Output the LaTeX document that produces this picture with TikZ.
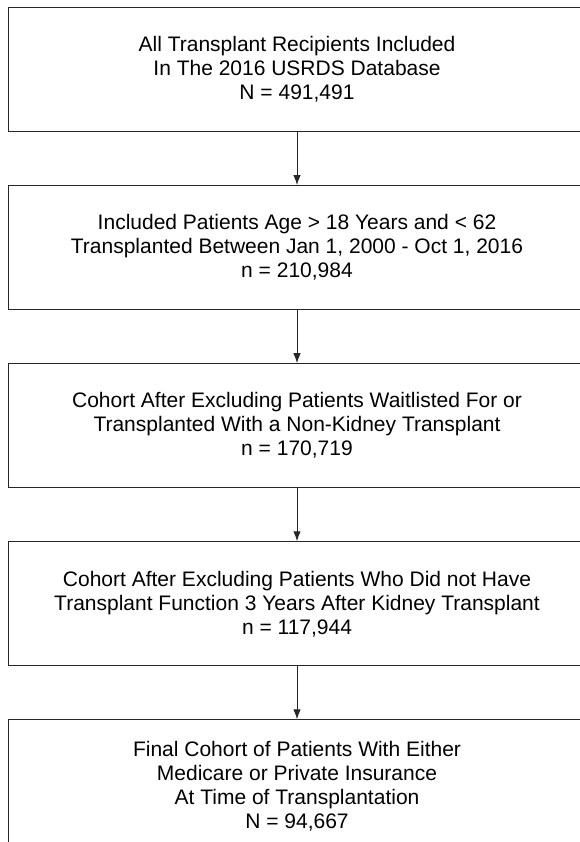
\documentclass[tikz,border=0pt]{standalone}
\usepackage{fontspec}
\setmainfont{Liberation Sans}
\usetikzlibrary{arrows.meta,positioning}

\begin{document}
\begin{tikzpicture}[x=1pt, y=1pt, node distance=53pt, every node/.style={font=\fontsize{21}{24}\selectfont},
	cohort/.style={draw=black!85, line width=1.1pt, minimum width=577pt, minimum height=124pt, align=center, inner sep=0pt},
	flow/.style={draw=black!85, line width=1pt, -{Latex[length=10pt, width=7.5pt]}}]
	\useasboundingbox (0,0) rectangle (580,-842);
	\node[cohort] (all) at (297,-69.5) {All Transplant Recipients Included\\ In The 2016 USRDS Database\\ N = 491,491};
	\node[cohort, below=of all] (age) {Included Patients Age > 18 Years and < 62\\ Transplanted Between Jan 1, 2000 - Oct 1, 2016\\ n = 210,984};
	\node[cohort, below=of age] (organ) {Cohort After Excluding Patients Waitlisted For or\\ Transplanted With a Non-Kidney Transplant\\ n = 170,719};
	\node[cohort, below=of organ] (graft) {Cohort After Excluding Patients Who Did not Have\\ Transplant Function 3 Years After Kidney Transplant\\ n = 117,944};
	\node[cohort, below=of graft, minimum height=132pt] (final) {Final Cohort of Patients With Either\\ Medicare or Private Insurance\\ At Time of Transplantation\\ N = 94,667};
	\foreach \a/\b in {all/age, age/organ, organ/graft, graft/final} {\draw[flow] (\a) -- (\b);}
\end{tikzpicture}
\end{document}
